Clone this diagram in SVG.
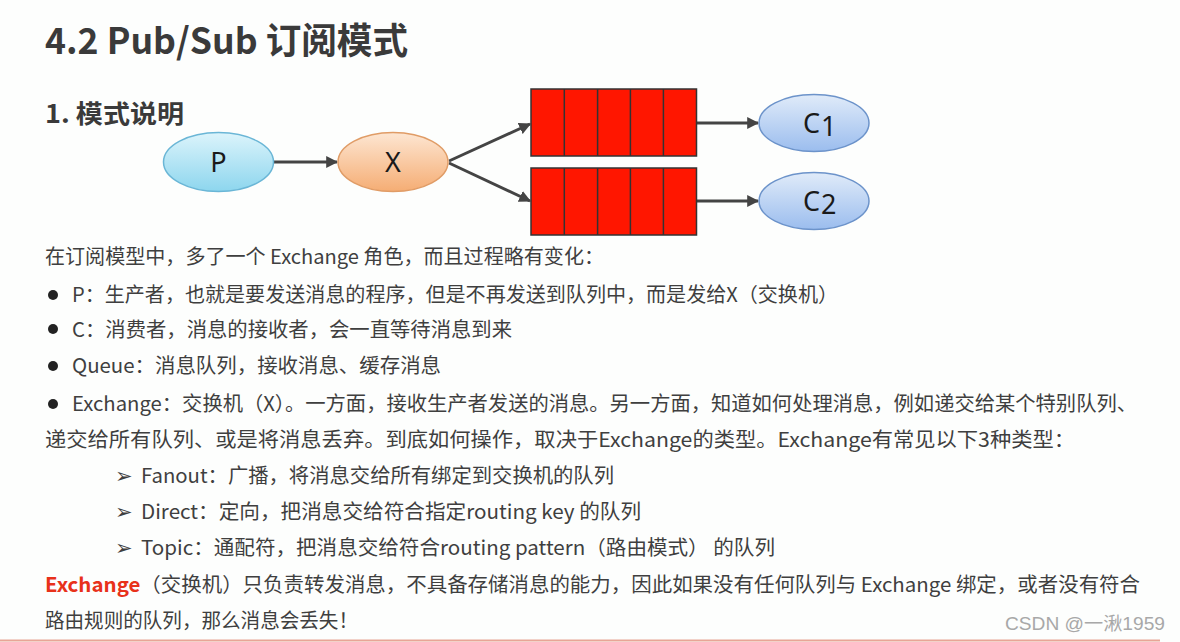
<svg xmlns="http://www.w3.org/2000/svg" width="1180" height="642" viewBox="0 0 1180 642">
<style>
.t{font-family:"Noto Sans CJK SC","Noto Sans",sans-serif;fill:#3f3f3f;font-size:20px}
.h{font-family:"Noto Sans CJK SC","Noto Sans",sans-serif;fill:#3a3a3a;font-weight:bold}
.n{font-family:"Noto Sans","Liberation Sans",sans-serif;fill:#1a1a1a;font-size:27px}
.ar{font-family:"DejaVu Sans",sans-serif;fill:#3f3f3f;font-size:21px}
.q{fill:#ff1600;stroke:#333;stroke-width:1.5}
.c{stroke:#444;stroke-width:3;fill:none;marker-end:url(#ah)}
</style>
<defs>
<linearGradient id="gp" x1="0" y1="0" x2="0" y2="1"><stop offset="0" stop-color="#dcf4fb"/><stop offset="1" stop-color="#8dd6ee"/></linearGradient>
<linearGradient id="gx" x1="0" y1="0" x2="0" y2="1"><stop offset="0" stop-color="#fde6d2"/><stop offset="1" stop-color="#f5ad74"/></linearGradient>
<linearGradient id="gc" x1="0" y1="0" x2="0" y2="1"><stop offset="0" stop-color="#e0ebf9"/><stop offset="1" stop-color="#9bbdee"/></linearGradient>
<marker id="ah" viewBox="0 0 10 10" refX="9" refY="5" markerWidth="4" markerHeight="4" orient="auto" markerUnits="strokeWidth"><path d="M0,0 L10,5 L0,10 z" fill="#444"/></marker>
</defs>
<rect width="1180" height="642" fill="#fdfefd"/>
<text class="h" x="45" y="54" font-size="36" textLength="363" lengthAdjust="spacingAndGlyphs">4.2 Pub/Sub 订阅模式</text>
<text class="h" x="45" y="123" font-size="25" textLength="139" lengthAdjust="spacingAndGlyphs">1. 模式说明</text>
<g id="connectors">
<line class="c" x1="274" y1="162" x2="337" y2="162"/>
<line class="c" x1="449" y1="161" x2="530" y2="124"/>
<line class="c" x1="449" y1="163" x2="530" y2="201"/>
<line class="c" x1="697" y1="123" x2="758" y2="123"/>
<line class="c" x1="697" y1="201" x2="758" y2="201"/>
</g>
<g id="P"><ellipse cx="218.5" cy="162" rx="55" ry="29.5" fill="url(#gp)" stroke="#6ab6d6" stroke-width="1.5"/><text class="n" x="218.5" y="171.5" text-anchor="middle">P</text></g>
<g id="X"><ellipse cx="393" cy="162" rx="55" ry="29.5" fill="url(#gx)" stroke="#e09c66" stroke-width="1.5"/><text class="n" x="393" y="171.5" text-anchor="middle">X</text></g>
<g id="Q1"><rect class="q" x="531" y="89" width="165.5" height="67"/><path d="M564.3 89V156M597.6 89V156M630.4 89V156M663.4 89V156" stroke="#333" stroke-width="1.5"/></g>
<g id="Q2"><rect class="q" x="531" y="168" width="165.5" height="67"/><path d="M564.3 168V235M597.6 168V235M630.4 168V235M663.4 168V235" stroke="#333" stroke-width="1.5"/></g>
<g id="C1"><ellipse cx="814" cy="123" rx="55" ry="28.5" fill="url(#gc)" stroke="#6c93ca" stroke-width="1.5"/><text class="n" x="820" y="133" text-anchor="end" font-size="29">C</text><text class="n" x="821" y="136" font-size="15">1</text></g>
<g id="C2"><ellipse cx="814" cy="201" rx="55" ry="28.5" fill="url(#gc)" stroke="#6c93ca" stroke-width="1.5"/><text class="n" x="820" y="211" text-anchor="end" font-size="29">C</text><text class="n" x="821" y="214" font-size="15">2</text></g>
<g id="text">
<text class="t" x="45" y="264" textLength="559" lengthAdjust="spacingAndGlyphs">在订阅模型中，多了一个 Exchange 角色，而且过程略有变化：</text>
<circle cx="53" cy="295" r="5" fill="#222"/>
<text class="t" x="72" y="302" textLength="766" lengthAdjust="spacingAndGlyphs">P：生产者，也就是要发送消息的程序，但是不再发送到队列中，而是发给X（交换机）</text>
<circle cx="53" cy="329" r="5" fill="#222"/>
<text class="t" x="72" y="337" textLength="440" lengthAdjust="spacingAndGlyphs">C：消费者，消息的接收者，会一直等待消息到来</text>
<circle cx="53" cy="366" r="5" fill="#222"/>
<text class="t" x="72" y="373" textLength="369" lengthAdjust="spacingAndGlyphs">Queue：消息队列，接收消息、缓存消息</text>
<circle cx="53" cy="404" r="5" fill="#222"/>
<text class="t" x="72" y="411" textLength="1065" lengthAdjust="spacingAndGlyphs">Exchange：交换机（X）。一方面，接收生产者发送的消息。另一方面，知道如何处理消息，例如递交给某个特别队列、</text>
<text class="t" x="45" y="447" textLength="1030" lengthAdjust="spacingAndGlyphs">递交给所有队列、或是将消息丢弃。到底如何操作，取决于Exchange的类型。Exchange有常见以下3种类型：</text>
<text class="ar" x="115" y="483">➢</text>
<text class="t" x="141" y="483" textLength="473" lengthAdjust="spacingAndGlyphs">Fanout：广播，将消息交给所有绑定到交换机的队列</text>
<text class="ar" x="115" y="519">➢</text>
<text class="t" x="141" y="519" textLength="500" lengthAdjust="spacingAndGlyphs">Direct：定向，把消息交给符合指定routing key 的队列</text>
<text class="ar" x="115" y="555">➢</text>
<text class="t" x="141" y="555" textLength="634" lengthAdjust="spacingAndGlyphs">Topic：通配符，把消息交给符合routing pattern（路由模式） 的队列</text>
<text class="t" x="45" y="592" textLength="1095" lengthAdjust="spacingAndGlyphs"><tspan fill="#e8311a" font-weight="bold">Exchange</tspan>（交换机）只负责转发消息，不具备存储消息的能力，因此如果没有任何队列与 Exchange 绑定，或者没有符合</text>
<text class="t" x="45" y="628" textLength="313" lengthAdjust="spacingAndGlyphs">路由规则的队列，那么消息会丢失！</text>
<text x="1005" y="630" font-family="Liberation Sans,Noto Sans CJK SC,sans-serif" font-size="18" fill="#a8a8a8" textLength="160" lengthAdjust="spacingAndGlyphs">CSDN @一湫1959</text>
</g>
<line x1="0" y1="640.5" x2="1160" y2="640.5" stroke="#e8a596" stroke-width="2"/>
</svg>
